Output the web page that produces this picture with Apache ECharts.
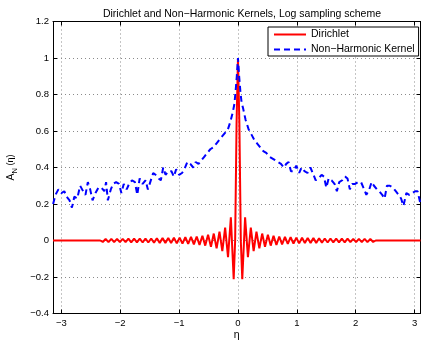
<!DOCTYPE html>
<html>
<head>
<meta charset="utf-8">
<script src="https://cdn.jsdelivr.net/npm/echarts@6/dist/echarts.min.js"></script>
<style>
  html, body { margin: 0; padding: 0; background: #fff; }
  #chart { width: 422px; height: 340px; }
</style>
</head>
<body>
<div id="chart"></div>
<script>
// Axis ticks
const xTicks = [-3, -2, -1, 0, 1, 2, 3];
const yTicks = [-0.4, -0.2, 0, 0.2, 0.4, 0.6, 0.8, 1, 1.2];

// Dirichlet kernel (log sampling scheme)
const dirichletX = [
  -3.1416, -2.34,
  -2.296, -2.248, -2.199, -2.151, -2.103, -2.054, -2.006, -1.958, -1.909, -1.861,
  -1.813, -1.764, -1.716, -1.668, -1.619, -1.571, -1.523, -1.474, -1.426, -1.378,
  -1.329, -1.281, -1.233, -1.184, -1.136, -1.088, -1.039, -0.991, -0.943, -0.894,
  -0.846, -0.798, -0.749, -0.701, -0.653, -0.604, -0.556, -0.508, -0.459, -0.411,
  -0.363, -0.314, -0.266, -0.218, -0.169, -0.121, -0.073, -0.048, -0.024,
  0,
  0.024, 0.048, 0.073, 0.121, 0.169, 0.218, 0.266, 0.314, 0.363,
  0.411, 0.459, 0.508, 0.556, 0.604, 0.653, 0.701, 0.749, 0.798, 0.846,
  0.894, 0.943, 0.991, 1.039, 1.088, 1.136, 1.184, 1.233, 1.281, 1.329,
  1.378, 1.426, 1.474, 1.523, 1.571, 1.619, 1.668, 1.716, 1.764, 1.813,
  1.861, 1.909, 1.958, 2.006, 2.054, 2.103, 2.151, 2.199, 2.248, 2.296,
  2.34, 3.1
];
const dirichletY = [
  0, 0,
  -0.008, 0.008, -0.009, 0.009, -0.009, 0.009, -0.009, 0.009, -0.009, 0.010,
  -0.010, 0.010, -0.010, 0.010, -0.011, 0.011, -0.011, 0.011, -0.012, 0.012,
  -0.013, 0.013, -0.013, 0.014, -0.014, 0.015, -0.016, 0.016, -0.017, 0.018,
  -0.019, 0.020, -0.021, 0.022, -0.024, 0.026, -0.028, 0.031, -0.034, 0.038,
  -0.043, 0.049, -0.058, 0.071, -0.091, 0.127, -0.212, 0, 0.64,
  1.0,
  0.64, 0, -0.212, 0.127, -0.091, 0.071, -0.058, 0.049, -0.043,
  0.038, -0.034, 0.031, -0.028, 0.026, -0.024, 0.022, -0.021, 0.020, -0.019,
  0.018, -0.017, 0.016, -0.016, 0.015, -0.014, 0.014, -0.013, 0.013, -0.013,
  0.012, -0.012, 0.011, -0.011, 0.011, -0.011, 0.010, -0.010, 0.010, -0.010,
  0.010, -0.009, 0.009, -0.009, 0.009, -0.009, 0.009, -0.009, 0.008, -0.008,
  0, 0
];

// Non-harmonic kernel
const nonHarmonicX = [
  -3.14, -3.10, -3.05, -3.00, -2.95, -2.91, -2.86, -2.82, -2.78, -2.73,
  -2.68, -2.63, -2.59, -2.55, -2.51, -2.47, -2.42, -2.37, -2.32, -2.27,
  -2.24, -2.21, -2.16, -2.12, -2.07, -2.02, -1.98, -1.94, -1.89, -1.85,
  -1.80, -1.75, -1.71, -1.67, -1.62, -1.57, -1.53, -1.49, -1.44, -1.40,
  -1.35, -1.31, -1.27, -1.23, -1.18, -1.13, -1.09, -1.05, -1.00, -0.95,
  -0.91, -0.86, -0.81, -0.76, -0.72, -0.67, -0.62, -0.57, -0.52, -0.47,
  -0.42, -0.37, -0.32, -0.27, -0.22, -0.17, -0.13, -0.09, -0.06, -0.04,
  -0.02, 0.00,
  0.02, 0.04, 0.06, 0.09, 0.13, 0.18, 0.23, 0.28, 0.33, 0.38,
  0.43, 0.48, 0.53, 0.58, 0.63, 0.68, 0.73, 0.78, 0.82, 0.86,
  0.90, 0.94, 0.99, 1.04, 1.08, 1.13, 1.18, 1.23, 1.27, 1.32,
  1.37, 1.42, 1.46, 1.50, 1.54, 1.59, 1.64, 1.68, 1.72, 1.77,
  1.82, 1.86, 1.90, 1.94, 1.99, 2.04, 2.09, 2.13, 2.18, 2.23,
  2.27, 2.31, 2.36, 2.40, 2.45, 2.49, 2.53, 2.58, 2.63, 2.68,
  2.73, 2.77, 2.81, 2.86, 2.91, 2.96, 3.01, 3.05, 3.10
];
const nonHarmonicY = [
  0.20, 0.25, 0.28, 0.26, 0.27, 0.24, 0.22, 0.18, 0.24, 0.23,
  0.30, 0.27, 0.25, 0.32, 0.28, 0.22, 0.26, 0.29, 0.29, 0.27,
  0.32, 0.22, 0.28, 0.31, 0.32, 0.31, 0.26, 0.31, 0.28, 0.31,
  0.33, 0.32, 0.25, 0.34, 0.31, 0.33, 0.28, 0.32, 0.37, 0.36,
  0.34, 0.33, 0.40, 0.36, 0.38, 0.38, 0.35, 0.39, 0.36, 0.37,
  0.39, 0.43, 0.42, 0.40, 0.43, 0.42, 0.44, 0.46, 0.48, 0.50,
  0.51, 0.53, 0.55, 0.57, 0.59, 0.61, 0.65, 0.70, 0.75, 0.82,
  0.90, 1.00,
  0.90, 0.82, 0.76, 0.72, 0.66, 0.61, 0.58, 0.55, 0.53, 0.51,
  0.49, 0.48, 0.46, 0.45, 0.44, 0.43, 0.42, 0.40, 0.42, 0.43,
  0.38, 0.38, 0.41, 0.37, 0.40, 0.38, 0.37, 0.40, 0.37, 0.33,
  0.34, 0.36, 0.35, 0.29, 0.34, 0.33, 0.31, 0.27, 0.32, 0.33,
  0.35, 0.34, 0.28, 0.31, 0.31, 0.32, 0.32, 0.29, 0.25, 0.28,
  0.32, 0.30, 0.28, 0.27, 0.25, 0.23, 0.30, 0.30, 0.29, 0.27,
  0.25, 0.23, 0.19, 0.26, 0.25, 0.26, 0.27, 0.27, 0.20
];

const pairs = (xs, ys) => xs.map((x, i) => [x, ys[i]]);
const fmt = v => String(Math.round(v * 10) / 10).replace('-', '\u2212');
const FONT = 'Liberation Sans, Arial, Helvetica, sans-serif';

const chart = echarts.init(document.getElementById('chart'), null, { renderer: 'canvas' });

const gridLine = { show: true, lineStyle: { color: '#8a8a8a', width: 1, type: [1, 3] } };
const frame = { show: true, onZero: false, lineStyle: { color: '#000', width: 1 } };

chart.setOption({
  animation: false,
  backgroundColor: '#fff',
  title: {
    text: 'Dirichlet and Non\u2212Harmonic Kernels, Log sampling scheme',
    left: 237, top: 4, textAlign: 'center',
    textStyle: { fontFamily: FONT, fontSize: 10.5, fontWeight: 'normal', color: '#000' }
  },
  legend: {
    orient: 'vertical', left: 268, top: 27,
    itemWidth: 32, itemHeight: 12, itemGap: 4,
    padding: [2, 4, 1, 5],
    borderColor: '#000', borderWidth: 1, backgroundColor: '#fff',
    itemStyle: { opacity: 0 },
    textStyle: { fontFamily: FONT, fontSize: 10.5, color: '#000' },
    data: ['Dirichlet', 'Non\u2212Harmonic Kernel']
  },
  grid: { left: 53, right: 1.5, top: 21.5, bottom: 26.5, containLabel: false, outerBoundsMode: 'none' },
  xAxis: [
    {
      type: 'value', min: -3.1416, max: 3.1, position: 'bottom', splitNumber: 6,
      name: '\u03b7', nameLocation: 'middle', nameGap: 16, nameMoveOverlap: false,
      nameTextStyle: { fontFamily: FONT, fontSize: 10.5, color: '#000' },
      axisLine: frame,
      axisTick: { show: true, inside: true, length: 4, customValues: xTicks, lineStyle: { color: '#000' } },
      axisLabel: { customValues: xTicks, formatter: fmt, margin: 5, fontFamily: FONT, fontSize: 9.5, color: '#000' },
      splitLine: gridLine
    },
    {
      type: 'value', min: -3.1416, max: 3.1, position: 'top',
      axisLine: frame,
      axisTick: { show: true, inside: true, length: 4, customValues: xTicks, lineStyle: { color: '#000' } },
      axisLabel: { show: false },
      splitLine: { show: false }
    }
  ],
  yAxis: [
    {
      type: 'value', min: yTicks[0], max: yTicks[yTicks.length - 1], interval: 0.2, position: 'left',
      name: '{a|A}{s|N}{b| (\u03b7)}', nameLocation: 'middle', nameGap: 34, nameRotate: 90, nameMoveOverlap: false,
      nameTextStyle: {
        rich: {
          a: { fontFamily: FONT, fontSize: 10.5, color: '#000', lineHeight: 16, verticalAlign: 'middle' },
          s: { fontFamily: FONT, fontSize: 7.5, color: '#000', lineHeight: 16, verticalAlign: 'bottom' },
          b: { fontFamily: FONT, fontSize: 9, color: '#000', lineHeight: 16, verticalAlign: 'middle' }
        }
      },
      axisLine: frame,
      axisTick: { show: true, inside: true, length: 4, lineStyle: { color: '#000' } },
      axisLabel: { formatter: fmt, margin: 4, fontFamily: FONT, fontSize: 9.5, color: '#000' },
      splitLine: gridLine
    },
    {
      type: 'value', min: yTicks[0], max: yTicks[yTicks.length - 1], interval: 0.2, position: 'right',
      axisLine: frame,
      axisTick: { show: true, inside: true, length: 4, lineStyle: { color: '#000' } },
      axisLabel: { show: false },
      splitLine: { show: false }
    }
  ],
  series: [
    {
      name: 'Dirichlet', type: 'line', xAxisIndex: 0, yAxisIndex: 0,
      data: pairs(dirichletX, dirichletY),
      showSymbol: false, symbol: 'none', sampling: null,
      lineStyle: { color: '#ff0000', width: 2 },
      itemStyle: { color: '#ff0000' }
    },
    {
      name: 'Non\u2212Harmonic Kernel', type: 'line', xAxisIndex: 0, yAxisIndex: 0,
      data: pairs(nonHarmonicX, nonHarmonicY),
      showSymbol: false, symbol: 'none',
      lineStyle: { color: '#0000ff', width: 2, type: [6, 4] },
      itemStyle: { color: '#0000ff' }
    }
  ]
});
</script>
</body>
</html>
